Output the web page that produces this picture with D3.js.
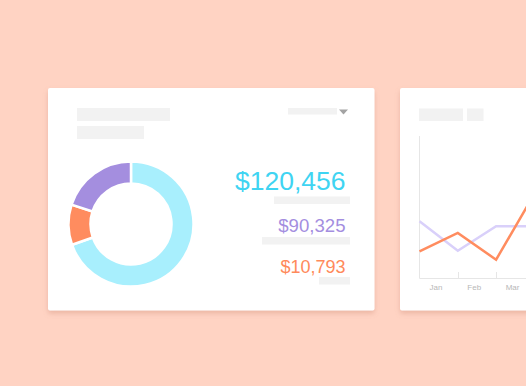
<!DOCTYPE html>
<html>
<head>
<meta charset="utf-8">
<script src="https://cdn.jsdelivr.net/npm/d3@7"></script>
<style>
  html, body { margin: 0; padding: 0; background: #ffd3c3; }
  svg { display: block; }
  text { font-family: "Liberation Sans", Arial, sans-serif; }
</style>
</head>
<body>
<svg id="chart" width="526" height="386"></svg>
<script>
(function() {
  'use strict';

  // donut shares (percent of ring)
  var shareKeys = ['cyan', 'orange', 'purple'];
  var shareValues = [69.6, 10.4, 20];

  // totals on the right of the donut
  var totalLabels = ['$120,456', '$90,325', '$10,793'];

  // line chart on the second card
  var months = ['Jan', 'Feb', 'Mar', 'Apr'];
  var orangeSeries = [18.8, 31.7, 12.9, 59.3];
  var purpleSeries = [39.9, 19.2, 36.4, 36.4];

  var colors = {
    cyan: '#a8effd',
    orange: '#ff8c5f',
    purple: '#a48edf',
    cyanText: '#3fd4f2',
    purpleText: '#a48edf',
    orangeText: '#ff8a5b',
    lineOrange: '#ff8c5f',
    linePurple: '#d9d0fa',
    placeholder: '#f2f2f2',
    axis: '#e6e6e6'
  };

  var width = 526;
  var svg = d3.select('#chart');

  var defs = svg.append('defs');
  var filter = defs.append('filter')
    .attr('id', 'shadow')
    .attr('x', '-10%').attr('y', '-10%')
    .attr('width', '120%').attr('height', '125%');
  filter.append('feDropShadow')
    .attr('dx', 0).attr('dy', 3)
    .attr('stdDeviation', 2.5)
    .attr('flood-color', '#c8806a')
    .attr('flood-opacity', 0.35);

  // cards
  svg.append('rect')
    .attr('x', 48).attr('y', 88)
    .attr('width', 326.5).attr('height', 222.5)
    .attr('rx', 2)
    .attr('fill', '#fff')
    .attr('filter', 'url(#shadow)');

  svg.append('rect')
    .attr('x', 400).attr('y', 88)
    .attr('width', 326.5).attr('height', 222.5)
    .attr('rx', 2)
    .attr('fill', '#fff')
    .attr('filter', 'url(#shadow)');

  // placeholder bars, card one
  var bars1 = [
    [77, 108, 93, 13],
    [77, 126, 67, 13],
    [288, 108, 49, 6.5],
    [274, 196.5, 76, 7.5],
    [262, 237, 88, 7.5],
    [319, 277, 31, 7.5]
  ];
  svg.append('g').selectAll('rect')
    .data(bars1)
    .join('rect')
    .attr('x', function(d) { return d[0]; })
    .attr('y', function(d) { return d[1]; })
    .attr('width', function(d) { return d[2]; })
    .attr('height', function(d) { return d[3]; })
    .attr('fill', colors.placeholder);

  // dropdown caret
  svg.append('path')
    .attr('d', 'M339,109.5 L348,109.5 L343.5,114.5 Z')
    .attr('fill', '#a3a3a3');

  // donut
  var pie = d3.pie().sort(null).value(function(d) { return d; });
  var arc = d3.arc().innerRadius(40.5).outerRadius(62.5);

  svg.append('g')
    .attr('transform', 'translate(131,224)')
    .selectAll('path')
    .data(pie(shareValues))
    .join('path')
    .attr('d', arc)
    .attr('fill', function(d, i) { return colors[shareKeys[i]]; })
    .attr('stroke', '#fff')
    .attr('stroke-width', 2.5);

  // totals
  var totalStyle = [
    { y: 189.5, size: 26.5, color: colors.cyanText },
    { y: 232.3, size: 18.6, color: colors.purpleText },
    { y: 272.5, size: 18, color: colors.orangeText }
  ];
  svg.append('g').selectAll('text')
    .data(totalLabels)
    .join('text')
    .attr('x', 345.5)
    .attr('y', function(d, i) { return totalStyle[i].y; })
    .attr('text-anchor', 'end')
    .attr('font-size', function(d, i) { return totalStyle[i].size; })
    .attr('fill', function(d, i) { return totalStyle[i].color; })
    .text(function(d) { return d; });

  // placeholder bars, card two
  svg.append('rect').attr('x', 419).attr('y', 108.5).attr('width', 44).attr('height', 12.5).attr('fill', colors.placeholder);
  svg.append('rect').attr('x', 467).attr('y', 108.5).attr('width', 16.5).attr('height', 12.5).attr('fill', colors.placeholder);

  // line chart
  var x = d3.scaleBand().domain(months).range([419.5, 419.5 + 38.3 * months.length]);
  var y = d3.scaleLinear().domain([0, 100]).range([278, 136]);

  var plot = svg.append('g');

  plot.append('line')
    .attr('x1', 419.5).attr('x2', 419.5)
    .attr('y1', 136).attr('y2', 278.5)
    .attr('stroke', colors.axis);
  plot.append('line')
    .attr('x1', 419.5).attr('x2', 600)
    .attr('y1', 278.5).attr('y2', 278.5)
    .attr('stroke', colors.axis);

  plot.selectAll('line.tick')
    .data(months.slice(1))
    .join('line')
    .attr('class', 'tick')
    .attr('x1', function(d) { return Math.round(x(d)) + 0.5; })
    .attr('x2', function(d) { return Math.round(x(d)) + 0.5; })
    .attr('y1', 272).attr('y2', 278.5)
    .attr('stroke', colors.axis);

  // only the month labels that fit on the visible part of the card
  var labelX = function(d) { return x(d) + x.bandwidth() * 0.43; };
  plot.selectAll('text.month')
    .data(months.filter(function(d) { return labelX(d) + 8 < width; }))
    .join('text')
    .attr('class', 'month')
    .attr('x', labelX)
    .attr('y', 290)
    .attr('text-anchor', 'middle')
    .attr('font-size', 8)
    .attr('fill', '#b8b8b8')
    .text(function(d) { return d; });

  var line = d3.line()
    .x(function(d, i) { return x(months[i]); })
    .y(function(d) { return y(d); });

  plot.append('path')
    .datum(purpleSeries)
    .attr('d', line)
    .attr('fill', 'none')
    .attr('stroke', colors.linePurple)
    .attr('stroke-width', 2.5);

  plot.append('path')
    .datum(orangeSeries)
    .attr('d', line)
    .attr('fill', 'none')
    .attr('stroke', colors.lineOrange)
    .attr('stroke-width', 2.5);
})();
</script>
</body>
</html>
